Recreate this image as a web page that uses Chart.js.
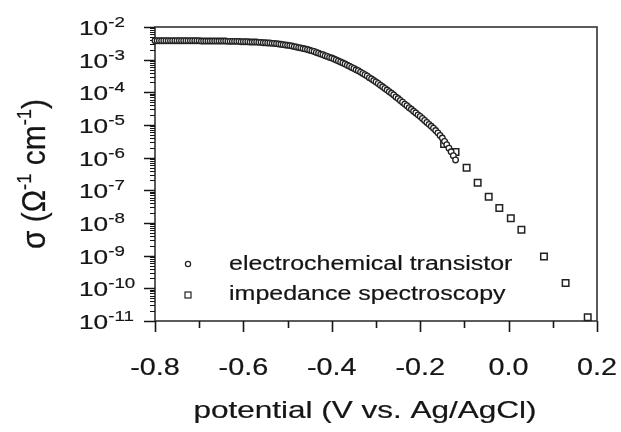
<!DOCTYPE html>
<html>
<head>
<meta charset="utf-8">
<script src="https://cdn.jsdelivr.net/npm/chart.js@4.4.0/dist/chart.umd.min.js"></script>
<style>
  html, body { margin: 0; padding: 0; background: #fff; }
  #wrap { width: 621px; height: 432px; position: relative; }
</style>
</head>
<body>
<div id="wrap"><canvas id="myChart"></canvas></div>
<script>
// electrochemical transistor (circles): potential in V vs Ag/AgCl
const transistorV = [
  -0.800, -0.795, -0.790, -0.785, -0.780, -0.775, -0.770, -0.765, -0.760, -0.755,
  -0.750, -0.745, -0.740, -0.735, -0.730, -0.725, -0.720, -0.715, -0.710, -0.705,
  -0.700, -0.695, -0.690, -0.685, -0.680, -0.675, -0.670, -0.665, -0.660, -0.655,
  -0.650, -0.645, -0.640, -0.635, -0.630, -0.625, -0.620, -0.615, -0.610, -0.605,
  -0.600, -0.595, -0.590, -0.585, -0.580, -0.575, -0.570, -0.565, -0.560, -0.555,
  -0.550, -0.545, -0.540, -0.535, -0.530, -0.525, -0.520, -0.515, -0.510, -0.505,
  -0.500, -0.495, -0.490, -0.485, -0.480, -0.475, -0.470, -0.465, -0.460, -0.455,
  -0.450, -0.445, -0.440, -0.435, -0.430, -0.425, -0.420, -0.415, -0.410, -0.405,
  -0.400, -0.395, -0.390, -0.385, -0.380, -0.375, -0.370, -0.365, -0.360, -0.355,
  -0.350, -0.345, -0.340, -0.335, -0.330, -0.325, -0.320, -0.315, -0.310, -0.305,
  -0.300, -0.295, -0.290, -0.285, -0.280, -0.275, -0.270, -0.265, -0.260, -0.255,
  -0.250, -0.245, -0.240, -0.235, -0.230, -0.225, -0.220, -0.215, -0.210, -0.205,
  -0.200, -0.195, -0.190, -0.185, -0.180, -0.175, -0.170, -0.165, -0.160, -0.155,
  -0.150, -0.145, -0.140, -0.135, -0.130, -0.125, -0.120
]
// log10 of sigma (S/cm), one per potential above
const transistorLogSigma = [
  -2.42, -2.42, -2.42, -2.42, -2.42, -2.42, -2.42, -2.42, -2.42, -2.42,
  -2.42, -2.42, -2.42, -2.42, -2.42, -2.42, -2.42, -2.42, -2.42, -2.42,
  -2.42, -2.43, -2.43, -2.43, -2.43, -2.43, -2.43, -2.43, -2.43, -2.43,
  -2.43, -2.43, -2.43, -2.44, -2.44, -2.44, -2.44, -2.44, -2.44, -2.45,
  -2.45, -2.45, -2.45, -2.46, -2.46, -2.46, -2.46, -2.47, -2.47, -2.48,
  -2.48, -2.49, -2.49, -2.50, -2.50, -2.51, -2.52, -2.53, -2.54, -2.55,
  -2.56, -2.57, -2.58, -2.60, -2.61, -2.63, -2.64, -2.66, -2.67, -2.69,
  -2.71, -2.73, -2.75, -2.78, -2.80, -2.83, -2.85, -2.88, -2.90, -2.93,
  -2.95, -2.98, -3.01, -3.04, -3.07, -3.10, -3.13, -3.17, -3.20, -3.24,
  -3.27, -3.31, -3.34, -3.38, -3.42, -3.46, -3.50, -3.55, -3.59, -3.64,
  -3.68, -3.73, -3.78, -3.83, -3.88, -3.93, -3.98, -4.03, -4.08, -4.14,
  -4.19, -4.25, -4.30, -4.36, -4.41, -4.47, -4.52, -4.58, -4.63, -4.69,
  -4.74, -4.80, -4.86, -4.92, -4.98, -5.04, -5.10, -5.17, -5.24, -5.32,
  -5.40, -5.50, -5.60, -5.71, -5.82, -5.94, -6.07
]

// impedance spectroscopy (squares)
const impedanceV = [-0.146, -0.120, -0.095, -0.070, -0.045, -0.021, 0.005, 0.029, 0.080, 0.129, 0.179]
const impedanceSigma = [2.6e-6, 1.5e-6, 4.9e-7, 1.7e-7, 6.4e-8, 2.9e-8, 1.4e-8, 6.2e-9, 9.5e-10, 1.45e-10, 1.3e-11]

const seriesNames = ['electrochemical transistor', 'impedance spectroscopy']
const xTickValues = [-0.8, -0.6, -0.4, -0.2, 0.0, 0.2]
const xTickLabels = ['-0.8', '-0.6', '-0.4', '-0.2', '0.0', '0.2']
const yDecades = [-2, -3, -4, -5, -6, -7, -8, -9, -10, -11]

const FONT = '"Liberation Sans", Arial, sans-serif'
const SX = 1.25   // the original figure is stretched sideways
const INK = '#151515'

// draws text made of pieces (for superscripts)
function drawRich(ctx, parts, x, y, align, sx, sy) {
    ctx.save()
    ctx.translate(x, y)
    ctx.scale(sx, sy)
    let total = 0
    parts.forEach(p => {
        ctx.font = p.size + 'px ' + FONT
        p.w = ctx.measureText(p.t).width
        total += p.w
    })
    let cx = align === 'center' ? -total / 2 : (align === 'right' ? -total : 0)
    ctx.textAlign = 'left'
    ctx.textBaseline = 'alphabetic'
    ctx.fillStyle = INK
    ctx.strokeStyle = INK
    ctx.lineWidth = 0.2
    parts.forEach(p => {
        ctx.font = p.size + 'px ' + FONT
        ctx.fillText(p.t, cx, -(p.rise || 0))
        ctx.strokeText(p.t, cx, -(p.rise || 0))
        cx += p.w
    })
    ctx.restore()
}

const axesPlugin = {
    id: 'axesPlugin',
    beforeDatasetsDraw(chart) {
        const ctx = chart.ctx
        const a = chart.chartArea
        const xs = chart.scales.x
        const ys = chart.scales.y
        ctx.save()
        ctx.strokeStyle = '#333'
        ctx.lineWidth = 1.6
        ctx.strokeRect(a.left, a.top, a.right - a.left, a.bottom - a.top)

        // x ticks, major every 0.2, minor every 0.1
        ctx.strokeStyle = INK
        for (let i = 0; i <= 10; i++) {
            const v = -0.8 + i * 0.1
            const px = Math.round(xs.getPixelForValue(v)) + 0.5
            const len = i % 2 === 0 ? 11 : 7
            ctx.beginPath()
            ctx.moveTo(px, a.bottom)
            ctx.lineTo(px, a.bottom + len)
            ctx.stroke()
        }
        // y ticks, decades and minor 2..9
        yDecades.forEach(d => {
            const py = Math.round(ys.getPixelForValue(Math.pow(10, d))) + 0.5
            ctx.lineWidth = 1.5
            ctx.beginPath()
            ctx.moveTo(a.left, py)
            ctx.lineTo(a.left - 11, py)
            ctx.stroke()
            if (d < -2) {
                ctx.lineWidth = 1
                for (let k = 2; k <= 9; k++) {
                    const my = Math.round(ys.getPixelForValue(k * Math.pow(10, d))) + 0.5
                    ctx.beginPath()
                    ctx.moveTo(a.left, my)
                    ctx.lineTo(a.left - 5, my)
                    ctx.stroke()
                }
            }
        })
        ctx.restore()
    },
    afterDraw(chart) {
        const ctx = chart.ctx
        const a = chart.chartArea
        const xs = chart.scales.x
        const ys = chart.scales.y

        // y tick labels 10^n
        yDecades.forEach(d => {
            const py = ys.getPixelForValue(Math.pow(10, d))
            drawRich(ctx, [
                {t: '10', size: 21},
                {t: '-' + Math.abs(d), size: 15, rise: 8}
            ], 79, py + 8, 'left', SX, 1)
        })

        // x tick labels
        xTickValues.forEach((v, i) => {
            drawRich(ctx, [{t: xTickLabels[i], size: 24}], xs.getPixelForValue(v), 375, 'center', SX * 0.96, 1)
        })

        // axis titles
        drawRich(ctx, [{t: 'potential (V vs. Ag/AgCl)', size: 24}], (a.left + a.right) / 2 - 11, 418, 'center', SX * 1.05, 1)

        ctx.save()
        ctx.translate(45, (a.top + a.bottom) / 2)
        ctx.rotate(-Math.PI / 2)
        drawRich(ctx, [
            {t: '\u03c3 (\u03a9', size: 26},
            {t: '-1', size: 16, rise: 11},
            {t: ' cm', size: 26},
            {t: '-1', size: 16, rise: 11},
            {t: ')', size: 26}
        ], 0, 0, 'center', 1.15, SX)
        ctx.restore()

        // legend
        ctx.save()
        ctx.strokeStyle = '#222'
        ctx.lineWidth = 1.2
        ctx.fillStyle = '#fff'
        ctx.beginPath()
        ctx.arc(188, 264, 2.6, 0, Math.PI * 2)
        ctx.fill()
        ctx.stroke()
        ctx.fillRect(185, 292, 6, 6)
        ctx.strokeRect(185, 292, 6, 6)
        ctx.restore()
        drawRich(ctx, [{t: seriesNames[0], size: 20}], 229, 270, 'left', SX, 1)
        drawRich(ctx, [{t: seriesNames[1], size: 20}], 229, 300, 'left', SX, 1)
    }
}

const data = {
    datasets: [{
        label: seriesNames[0],
        data: transistorV.map((v, i) => ({x: v, y: Math.pow(10, transistorLogSigma[i])})),
        pointStyle: 'circle',
        pointRadius: 2.8,
        borderWidth: 1.3,
        borderColor: '#222',
        backgroundColor: '#fff',
        showLine: false,
        clip: false
    }, {
        label: seriesNames[1],
        data: impedanceV.map((v, i) => ({x: v, y: impedanceSigma[i]})),
        pointStyle: 'rect',
        pointRadius: 4.6,
        borderWidth: 1.5,
        borderColor: '#222',
        backgroundColor: '#fff',
        showLine: false,
        clip: false
    }]
}

const config = {
    type: 'scatter',
    data: data,
    options: {
        responsive: true,
        maintainAspectRatio: false,
        animation: false,
        devicePixelRatio: 1,
        layout: {padding: {top: 27, right: 24, left: 0, bottom: 0}},
        scales: {
            x: {
                type: 'linear',
                min: -0.8,
                max: 0.2,
                grid: {display: false},
                border: {display: false},
                ticks: {display: false},
                afterFit: scale => { scale.height = 111 }
            },
            y: {
                type: 'logarithmic',
                min: 1e-11,
                max: 1e-2,
                grid: {display: false},
                border: {display: false},
                ticks: {display: false},
                afterFit: scale => { scale.width = 155 }
            }
        },
        plugins: {
            legend: {display: false},
            tooltip: {enabled: false}
        }
    },
    plugins: [axesPlugin]
}

let myChart = new Chart(document.getElementById('myChart'), config)
</script>
</body>
</html>
